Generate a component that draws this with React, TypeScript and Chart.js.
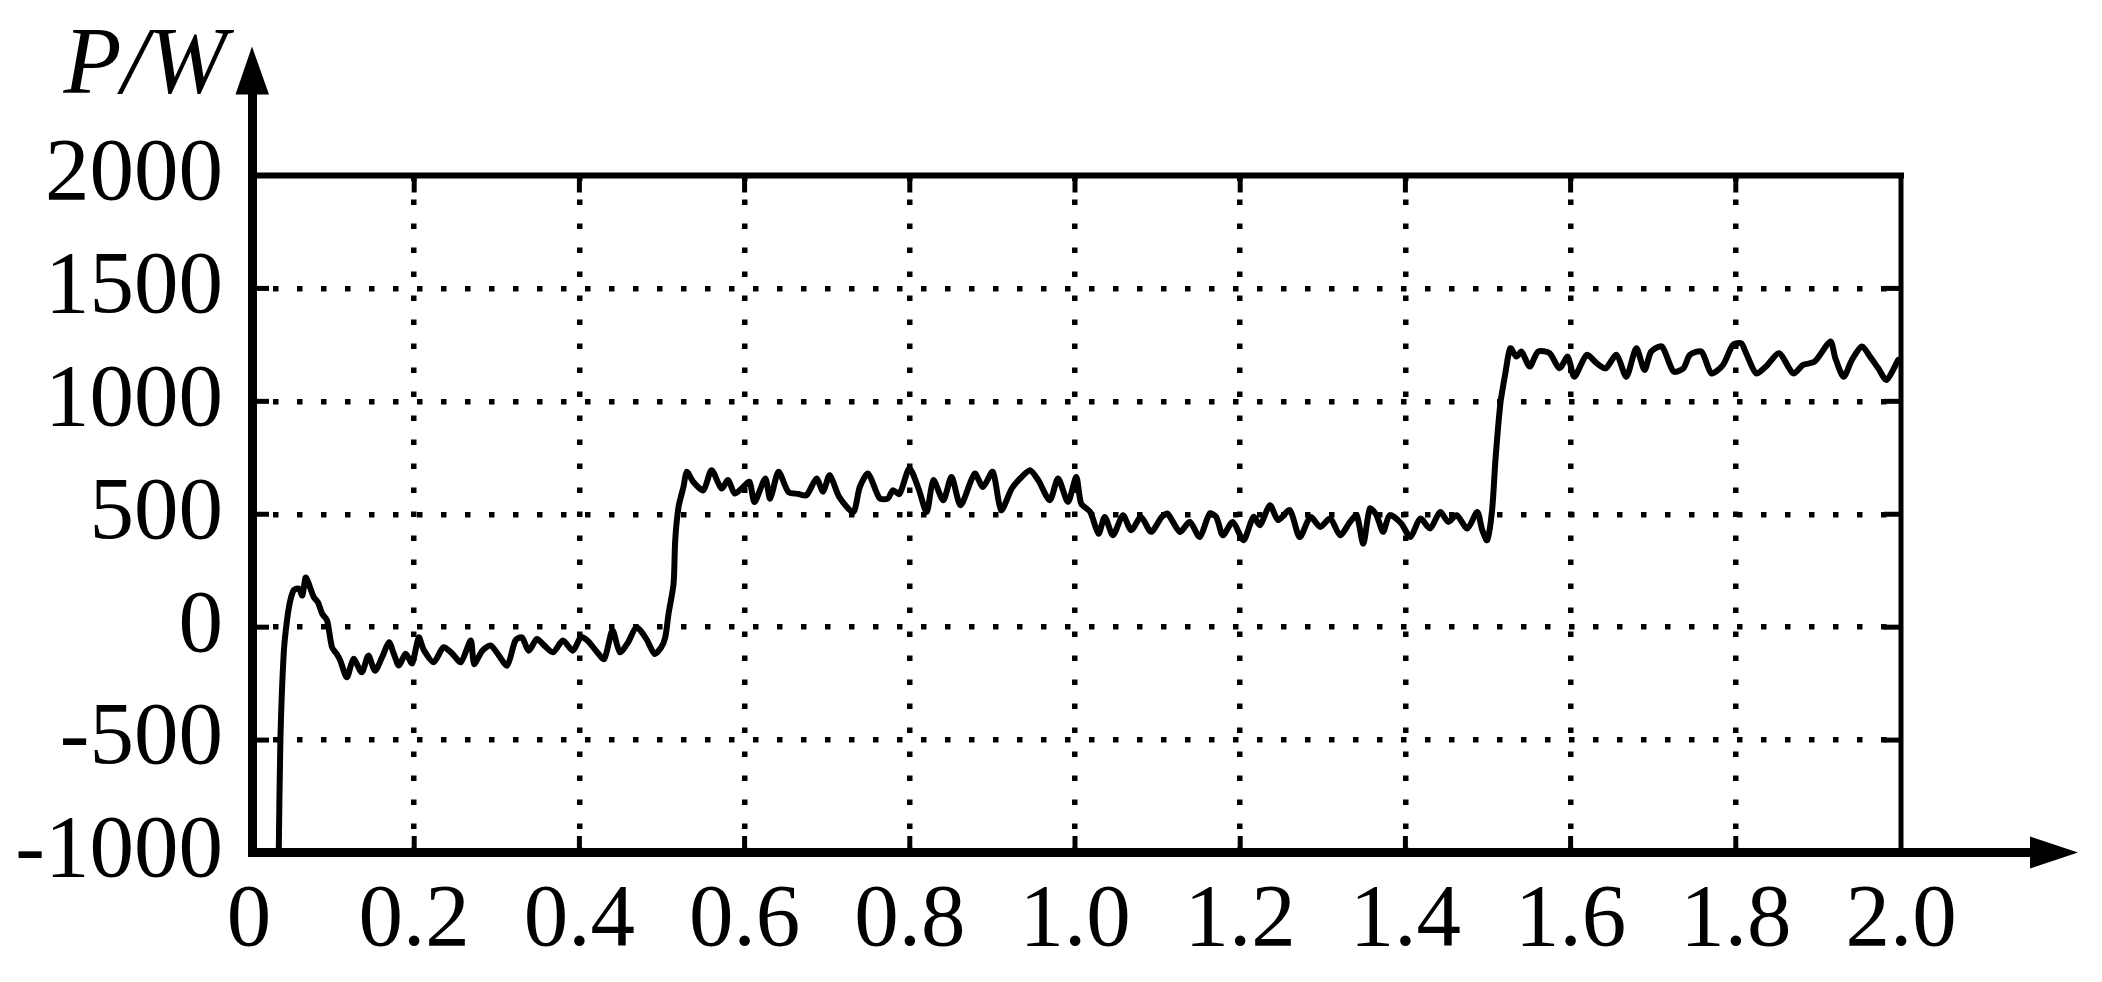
import React, { useEffect, useRef } from "react";
import { Chart, registerables } from "chart.js";

Chart.register(...registerables);

// ---- data (time in s, power in W) ----
const timeS: number[] = [
  0.036, 0.038, 0.042, 0.046, 0.05, 0.0545, 0.0605, 0.0645, 0.0685, 0.0715,
  0.0785, 0.0835, 0.0885, 0.0945, 0.1005, 0.1065, 0.1105, 0.1185, 0.1265, 0.1365,
  0.1445, 0.1525, 0.1615, 0.1695, 0.1755, 0.1815, 0.1895, 0.1975, 0.2055, 0.2115,
  0.2235, 0.2355, 0.2455, 0.2565, 0.2685, 0.2725, 0.2825, 0.2925, 0.3005, 0.3125,
  0.3225, 0.3305, 0.3385, 0.3485, 0.3555,
  0.368, 0.38, 0.392, 0.402, 0.41, 0.42, 0.43, 0.44, 0.449, 0.459,
  0.469, 0.481, 0.491, 0.499, 0.504, 0.508, 0.514, 0.516, 0.52, 0.526,
  0.53, 0.538, 0.55, 0.56, 0.572, 0.58, 0.588, 0.598, 0.606, 0.612,
  0.625, 0.631, 0.641, 0.653, 0.665, 0.675, 0.687, 0.695, 0.703,
  0.7145, 0.7315, 0.7395, 0.7495, 0.7635, 0.7735, 0.7795, 0.7875, 0.7995, 0.8105,
  0.8205, 0.8285, 0.8405, 0.8505, 0.8615, 0.8785, 0.8885, 0.9005, 0.9105, 0.9235,
  0.9355, 0.9455, 0.9555, 0.9695, 0.9795, 0.9915, 1.0015, 1.0075, 1.0185, 1.0285,
  1.036, 1.046, 1.058, 1.068, 1.08, 1.092, 1.105, 1.112, 1.127, 1.139,
  1.151, 1.163, 1.171, 1.179, 1.191, 1.204, 1.216, 1.224, 1.236, 1.246,
  1.26, 1.272, 1.285, 1.297, 1.309, 1.321, 1.333, 1.341, 1.349, 1.357,
  1.365, 1.373, 1.381, 1.395, 1.406, 1.418, 1.43, 1.442, 1.452, 1.462,
  1.475, 1.487, 1.493, 1.499, 1.505, 1.509, 1.515, 1.521, 1.527,
  1.5345, 1.5405, 1.5505, 1.5605, 1.5745, 1.5865, 1.5965, 1.6045, 1.6195, 1.6315,
  1.6425, 1.6555, 1.6675, 1.6795, 1.6895, 1.6975, 1.7105, 1.7245, 1.7365, 1.7445,
  1.7585, 1.7705, 1.7845, 1.7965, 1.8065, 1.8125, 1.8245, 1.8365, 1.8525, 1.8695,
  1.8815, 1.8955, 1.9145, 1.9205, 1.9305, 1.9405, 1.9525, 1.9625, 1.9725, 1.9825,
  1.9965,
];

const powerW: number[] = [
  -1000, -500, -117, 30, 118, 165, 170, 140, 220, 200,
  133, 110, 60, 30, -89, -120, -148, -222, -140, -200,
  -126, -193, -130, -67, -120, -170, -118, -160, -45, -100,
  -155, -89, -115, -155, -59, -163, -104, -81, -115, -170,
  -59, -45, -104, -52, -74,
  -111, -59, -104, -44, -60, -104, -141, -15, -111, -67,
  0, -52, -118, -90, -44, 61, 192, 385, 532, 621,
  688, 643, 606, 695, 614, 651, 592, 620, 643, 554,
  658, 569, 688, 599, 590, 584, 658, 600, 673,
  577, 510, 621, 680, 570, 570, 606, 590, 703, 614,
  510, 651, 562, 665, 540, 680, 621, 688, 518, 614,
  665, 695, 651, 562, 658, 555, 665, 547, 510, 414,
  488, 407, 496, 429, 488, 422, 488, 503, 422, 466,
  399, 503, 488, 407, 466, 385, 488, 452, 540, 474,
  518, 399, 488, 444, 481, 407, 466, 496, 370, 525,
  496, 422, 496, 459, 399, 481, 437, 510, 466, 496,
  437, 510, 430, 385, 520, 740, 991, 1124, 1235,
  1198, 1220, 1154, 1220, 1213, 1146, 1198, 1109, 1206, 1169,
  1146, 1206, 1109, 1235, 1139, 1220, 1243, 1132, 1146, 1206,
  1220, 1124, 1161, 1250, 1257, 1213, 1124, 1154, 1213, 1124,
  1161, 1176, 1265, 1191, 1109, 1183, 1243, 1198, 1146, 1095,
  1183,
];

const xTickLabels: string[] = ["0", "0.2", "0.4", "0.6", "0.8", "1.0", "1.2", "1.4", "1.6", "1.8", "2.0"];
const yTickLabels: string[] = ["-1000", "-500", "0", "500", "1000", "1500", "2000"];
const yAxisTitle = "P/W";

const X_MIN = 0;
const X_MAX = 2;
const X_STEP = 0.2;
const Y_MIN = -1000;
const Y_MAX = 2000;
const Y_STEP = 500;

const FONT_FAMILY = '"Liberation Serif", "Times New Roman", serif';

const innerGridColor = (ctx: any) => {
  const n = ctx.scale && ctx.scale.ticks ? ctx.scale.ticks.length : 0;
  return ctx.index === 0 || ctx.index === n - 1 ? "rgba(0,0,0,0)" : "#000";
};

const framePlugin = {
  id: "frame",
  afterDatasetsDraw(chart: any) {
    const { ctx, chartArea: a, scales } = chart;
    const xs = scales.x;
    const ys = scales.y;
    const line = (x1: number, y1: number, x2: number, y2: number) => {
      ctx.beginPath();
      ctx.moveTo(x1, y1);
      ctx.lineTo(x2, y2);
      ctx.stroke();
    };
    ctx.save();
    ctx.strokeStyle = "#000";
    ctx.fillStyle = "#000";
    ctx.lineCap = "butt";

    // top and right frame
    ctx.lineWidth = 6;
    line(a.left, a.top, a.right + 3, a.top);
    ctx.lineWidth = 5;
    line(a.right, a.top, a.right, a.bottom);

    // inward ticks
    const tl = 17;
    ctx.lineWidth = 5;
    xs.ticks.forEach((t: any, i: number) => {
      if (i === 0 || i === xs.ticks.length - 1) return;
      const px = xs.getPixelForValue(t.value);
      line(px, a.top, px, a.top + tl);
      line(px, a.bottom, px, a.bottom - tl);
    });
    ys.ticks.forEach((t: any, i: number) => {
      if (i === 0 || i === ys.ticks.length - 1) return;
      const py = ys.getPixelForValue(t.value);
      line(a.left + 3, py, a.left + 3 + tl, py);
      line(a.right, py, a.right - tl, py);
    });

    // y axis with arrow
    const ax = a.left + 3.5;
    ctx.fillRect(ax - 4.5, a.top - 82, 9, a.bottom - a.top + 86);
    ctx.beginPath();
    ctx.moveTo(ax - 0.5, a.top - 129);
    ctx.lineTo(ax + 16.5, a.top - 81);
    ctx.lineTo(ax - 17, a.top - 81);
    ctx.closePath();
    ctx.fill();

    // x axis with arrow
    const ay = a.bottom - 0.5;
    ctx.fillRect(a.left - 1, ay - 4.5, a.right + 130 - a.left, 9);
    ctx.beginPath();
    ctx.moveTo(a.right + 129, ay - 16);
    ctx.lineTo(a.right + 177, ay);
    ctx.lineTo(a.right + 129, ay + 16);
    ctx.closePath();
    ctx.fill();

    // axis title
    ctx.font = `italic 95px ${FONT_FAMILY}`;
    ctx.textAlign = "right";
    ctx.textBaseline = "alphabetic";
    ctx.fillText(yAxisTitle, a.left - 22, a.top - 82.5);
    ctx.restore();
  },
};

export default function App() {
  const canvasRef = useRef<HTMLCanvasElement | null>(null);

  useEffect(() => {
    document.body.style.margin = "0";
    document.body.style.overflow = "hidden";
    const canvas = canvasRef.current;
    if (!canvas) return;
    const tickFont = { family: FONT_FAMILY, size: 89, lineHeight: 1 };
    const chart = new Chart(canvas, {
      type: "line",
      data: {
        datasets: [
          {
            data: timeS.map((t, i) => ({ x: t, y: powerW[i] })),
            borderColor: "#000",
            borderWidth: 6,
            pointRadius: 0,
            tension: 0.25,
            fill: false,
            borderJoinStyle: "round",
            borderCapStyle: "round",
          },
        ],
      },
      options: {
        responsive: false,
        maintainAspectRatio: false,
        animation: false,
        devicePixelRatio: 1,
        layout: { padding: { left: 0, right: 201, top: 175.5, bottom: 0 } },
        plugins: {
          legend: { display: false },
          tooltip: { enabled: false },
          title: { display: false },
        },
        scales: {
          x: {
            type: "linear",
            min: X_MIN,
            max: X_MAX,
            ticks: {
              stepSize: X_STEP,
              autoSkip: false,
              maxRotation: 0,
              minRotation: 0,
              padding: 24,
              color: "#000",
              font: tickFont,
              callback: (_v: any, i: number) => xTickLabels[i],
            },
            grid: { color: innerGridColor, lineWidth: 5.5, drawTicks: false },
            border: { display: false, dash: [5.5, 18.5], dashOffset: 0 },
            afterFit: (s: any) => {
              s.height = 129;
            },
          },
          y: {
            type: "linear",
            min: Y_MIN,
            max: Y_MAX,
            ticks: {
              stepSize: Y_STEP,
              autoSkip: false,
              padding: 26,
              color: "#000",
              font: tickFont,
              callback: (_v: any, i: number) => yTickLabels[i],
            },
            grid: { color: innerGridColor, lineWidth: 5.5, drawTicks: false },
            border: { display: false, dash: [5.5, 18.5], dashOffset: 0 },
            afterFit: (s: any) => {
              s.width = 249;
            },
          },
        },
      } as any,
      plugins: [framePlugin],
    });
    return () => chart.destroy();
  }, []);

  return (
    <div style={{ width: 2102, height: 982, background: "#fff" }}>
      <canvas ref={canvasRef} width={2102} height={982} style={{ display: "block" }} />
    </div>
  );
}
